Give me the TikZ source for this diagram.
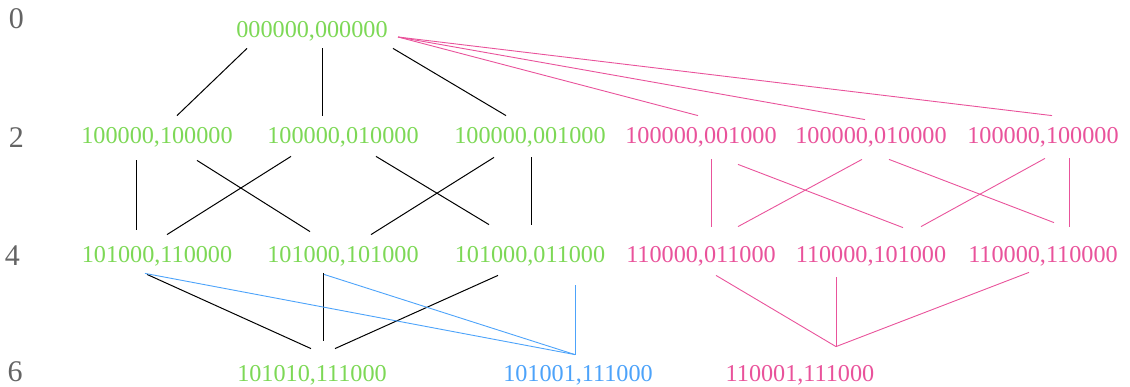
\documentclass[tikz,border=0pt]{standalone}
\usepackage{fontspec}
\setmainfont{Liberation Serif}
\definecolor{lgreen}{RGB}{125,216,86}
\definecolor{lpink}{RGB}{233,83,155}
\definecolor{lblue}{RGB}{77,163,250}
\definecolor{lgray}{RGB}{100,100,100}

\begin{document}
\begin{tikzpicture} [x=1pt, y=-1pt, state/.style={inner xsep=0pt, inner ysep=11pt, text height=16.4pt, text depth=0pt, font=\fontsize{24.2}{29}\selectfont}, level/.style={inner sep=0pt, text=lgray, font=\fontsize{30}{34}\selectfont}, gedge/.style={draw=black, line width=1pt}, pedge/.style={draw=lpink, line width=0.9pt}, bedge/.style={draw=lblue, line width=0.9pt}]
	\useasboundingbox (0,0) rectangle (1130,387);
	
	% levels
	\node [level] (lev0) at (16.5,18.5) {0};
	\node [level] (lev2) at (16.5,137.5) {2};
	\node [level] (lev4) at (12.5,256) {4};
	\node [level] (lev6) at (15,372) {6};
	
	% states
	\node [state, text=lgreen] (top) at (312,29) {000000,000000};
	\node [state, text=lgreen] (g2a) at (157,135) {100000,100000};
	\node [state, text=lgreen] (g2b) at (343,135) {100000,010000};
	\node [state, text=lgreen] (g2c) at (530,135) {100000,001000};
	\node [state, text=lpink] (p2a) at (701,135) {100000,001000};
	\node [state, text=lpink] (p2b) at (871,135) {100000,010000};
	\node [state, text=lpink] (p2c) at (1043,135) {100000,100000};
	\node [state, text=lgreen] (g4a) at (157,254) {101000,110000};
	\node [state, text=lgreen] (g4b) at (343,254) {101000,101000};
	\node [state, text=lgreen] (g4c) at (530,254) {101000,011000};
	\node [state, text=lpink] (p4a) at (701,254) {110000,011000};
	\node [state, text=lpink] (p4b) at (871,254) {110000,101000};
	\node [state, text=lpink] (p4c) at (1043,254) {110000,110000};
	\node [state, text=lgreen] (g6) at (312,373) {101010,111000};
	\node [state, text=lblue] (b6) at (578,373) {101001,111000};
	\node [state, text=lpink] (p6) at (800,373) {110001,111000};
	
	% draw edges
	\draw [gedge] ([xshift=-65pt]top.south) -- ([xshift=20pt]g2a.north);
	\draw [gedge] ([xshift=10pt]top.south) -- ([xshift=-21pt]g2b.north);
	\draw [gedge] ([xshift=81pt]top.south) -- ([xshift=-24pt]g2c.north);
	\draw [pedge] ([xshift=86pt, yshift=-8pt]top.center) -- ([xshift=-3pt]p2a.north);
	\draw [pedge] ([xshift=86pt, yshift=-8pt]top.center) -- ([xshift=-6pt, yshift=-4pt]p2b.north);
	\draw [pedge] ([xshift=86pt, yshift=-8pt]top.center) -- ([xshift=9pt]p2c.north);
	
	\draw [gedge] ([xshift=-21pt, yshift=-6pt]g2a.south) -- ([xshift=-21pt, yshift=5pt]g4a.north);
	\draw [gedge] ([xshift=40pt, yshift=-6pt]g2a.south) -- ([xshift=-33pt, yshift=3pt]g4b.north);
	\draw [gedge] ([xshift=-52pt, yshift=-2pt]g2b.south) -- ([xshift=10pt]g4a.north);
	\draw [gedge] ([xshift=33pt, yshift=-2pt]g2b.south) -- ([xshift=-41pt, yshift=10pt]g4c.north);
	\draw [gedge] ([xshift=-36pt, yshift=-3pt]g2c.south) -- ([xshift=28pt]g4b.north);
	\draw [gedge] ([xshift=1pt, yshift=-3pt]g2c.south) -- ([xshift=1pt, yshift=10pt]g4c.north);
	\draw [pedge] ([xshift=10pt, yshift=-5pt]p2a.south) -- ([xshift=10pt, yshift=8pt]p4a.north);
	\draw [pedge] ([xshift=37pt, yshift=-10pt]p2a.south) -- ([xshift=32pt, yshift=7pt]p4b.north);
	\draw [pedge] ([xshift=-9pt, yshift=-5pt]p2b.south) -- ([xshift=37pt, yshift=8pt]p4a.north);
	\draw [pedge] ([xshift=18pt, yshift=-5pt]p2b.south) -- ([xshift=11pt, yshift=12pt]p4c.north);
	\draw [pedge] ([xshift=2pt, yshift=-4pt]p2c.south) -- ([xshift=50pt, yshift=8pt]p4b.north);
	\draw [pedge] ([xshift=26pt, yshift=-4pt]p2c.south) -- ([xshift=26pt, yshift=8pt]p4c.north);
	
	\draw [gedge] ([xshift=-10pt, yshift=-1pt]g4a.south) -- ([xshift=-1pt, yshift=5pt]g6.north);
	\draw [gedge] ([xshift=-20pt]g4b.south) -- ([xshift=11pt, yshift=13pt]g6.north);
	\draw [gedge] ([xshift=-32pt, yshift=-2pt]g4c.south) -- ([xshift=23pt, yshift=5pt]g6.north);
	\draw [bedge] ([xshift=-12pt]g4a.south) -- ([xshift=-3pt, yshift=-1pt]b6.north);
	\draw [bedge] ([xshift=-19pt, yshift=-1pt]g4b.south) -- ([xshift=-3pt, yshift=-1pt]b6.north);
	\draw [bedge] ([xshift=45pt, yshift=-12pt]g4c.south) -- ([xshift=-3pt, yshift=-1pt]b6.north);
	\draw [pedge] ([xshift=15pt, yshift=-2pt]p4a.south) -- ([xshift=36pt, yshift=7pt]p6.north);
	\draw [pedge] ([xshift=-35pt, yshift=-4pt]p4b.south) -- ([xshift=36pt, yshift=7pt]p6.north);
	\draw [pedge] ([xshift=-14pt, yshift=1pt]p4c.south) -- ([xshift=36pt, yshift=7pt]p6.north);
\end{tikzpicture}
\end{document}
